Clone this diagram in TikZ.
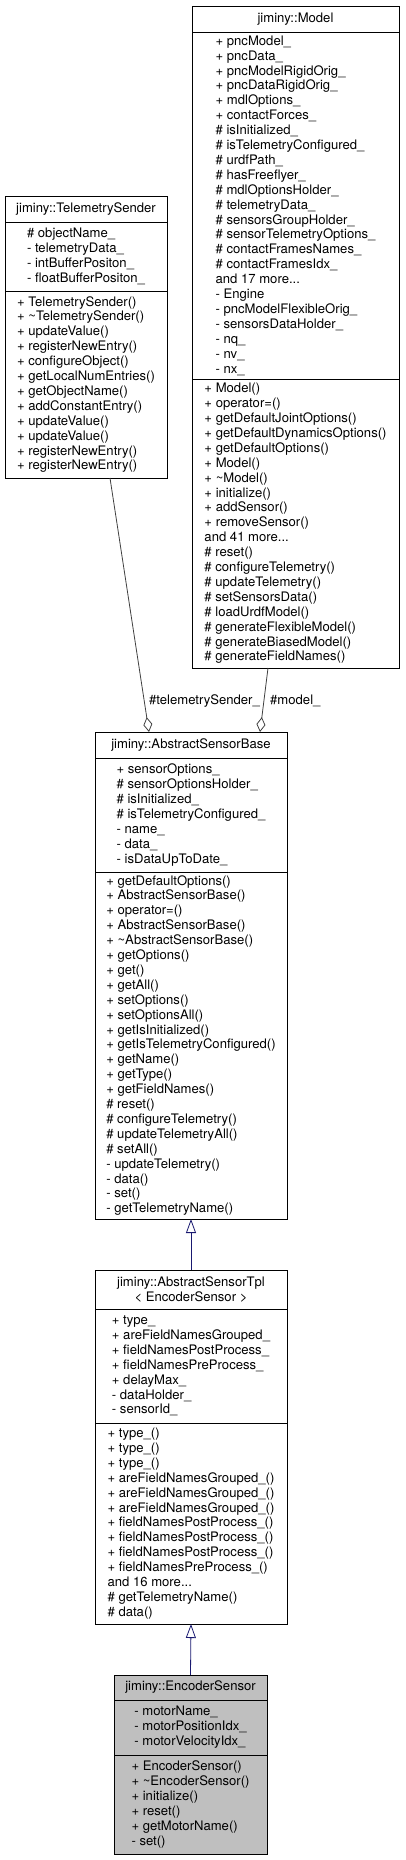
\documentclass[tikz,border=0pt]{standalone}
\usepackage{fontspec}
\setmainfont{TeX Gyre Heros}
\usetikzlibrary{positioning,arrows.meta}

\definecolor{edgeblue}{HTML}{191970}
\definecolor{edgegray}{HTML}{404040}
\definecolor{leafgray}{HTML}{BFBFBF}

\tikzset{
  cls/.style={draw=black, fill=white, line width=0.8pt, outer sep=0pt, inner sep=0pt,
    align=left, font=\fontsize{13.1}{14.9}\selectfont},
  ttl/.style={cls, align=center},
  leaf/.style={fill=leafgray},
  aggr/.style={draw=edgegray, line width=0.8pt, -{Diamond[open,length=15pt,width=9pt]}},
  inh/.style={draw=edgeblue, line width=0.8pt, -{Triangle[open,length=14pt,width=10pt]}},
  lbl/.style={inner sep=0pt, font=\fontsize{13.1}{14.9}\selectfont}
}

\begin{document}
\begin{tikzpicture}[x=1pt,y=-1pt,node distance=0pt]
    \useasboundingbox (0,0) rectangle (405,1860);

    % Define box widths
    \def\wMd{207pt}
    \def\wTs{162pt}
    \def\wSb{192pt}
    \def\wEs{153pt}

    % jiminy::Model
    \node[ttl, anchor=north west, minimum width=\wMd, minimum height=26pt] (mdT) at (192,6) {jiminy::Model};
    \node[cls, below=of mdT, minimum width=\wMd, minimum height=347pt] (mdA) {%
        + pncModel\_\\+ pncData\_\\+ pncModelRigidOrig\_\\+ pncDataRigidOrig\_\\%
        + mdlOptions\_\\+ contactForces\_\\\# isInitialized\_\\\# isTelemetryConfigured\_\\%
        \# urdfPath\_\\\# hasFreeflyer\_\\\# mdlOptionsHolder\_\\\# telemetryData\_\\%
        \# sensorsGroupHolder\_\\\# sensorTelemetryOptions\_\\\# contactFramesNames\_\\%
        \# contactFramesIdx\_\\and 17 more...\\- Engine\\- pncModelFlexibleOrig\_\\%
        - sensorsDataHolder\_\\- nq\_\\- nv\_\\- nx\_};
    \node[cls, below=of mdA, minimum width=\wMd, minimum height=289pt] (mdO) {%
        + Model()\\+ operator=()\\+ getDefaultJointOptions()\\+ getDefaultDynamicsOptions()\\%
        + getDefaultOptions()\\+ Model()\\+ \textasciitilde Model()\\+ initialize()\\%
        + addSensor()\\+ removeSensor()\\and 41 more...\\\# reset()\\\# configureTelemetry()\\%
        \# updateTelemetry()\\\# setSensorsData()\\\# loadUrdfModel()\\%
        \# generateFlexibleModel()\\\# generateBiasedModel()\\\# generateFieldNames()};

    % jiminy::TelemetrySender
    \node[ttl, anchor=north west, minimum width=\wTs, minimum height=26pt] (tsT) at (5,196) {jiminy::TelemetrySender};
    \node[cls, below=of tsT, minimum width=\wTs, minimum height=69pt] (tsA) {%
        \# objectName\_\\- telemetryData\_\\- intBufferPositon\_\\- floatBufferPositon\_};
    \node[cls, below=of tsA, minimum width=\wTs, minimum height=187pt] (tsO) {%
        + TelemetrySender()\\+ \textasciitilde TelemetrySender()\\+ updateValue()\\%
        + registerNewEntry()\\+ configureObject()\\+ getLocalNumEntries()\\%
        + getObjectName()\\+ addConstantEntry()\\+ updateValue()\\+ updateValue()\\%
        + registerNewEntry()\\+ registerNewEntry()};

    % jiminy::AbstractSensorBase
    \node[ttl, anchor=north west, minimum width=\wSb, minimum height=26pt] (sbT) at (95,732) {jiminy::AbstractSensorBase};
    \node[cls, below=of sbT, minimum width=\wSb, minimum height=114pt] (sbA) {%
        + sensorOptions\_\\\# sensorOptionsHolder\_\\\# isInitialized\_\\%
        \# isTelemetryConfigured\_\\- name\_\\- data\_\\- isDataUpToDate\_};
    \node[cls, below=of sbA, minimum width=\wSb, minimum height=347pt] (sbO) {%
        + getDefaultOptions()\\+ AbstractSensorBase()\\+ operator=()\\+ AbstractSensorBase()\\%
        + \textasciitilde AbstractSensorBase()\\+ getOptions()\\+ get()\\+ getAll()\\%
        + setOptions()\\+ setOptionsAll()\\+ getIsInitialized()\\+ getIsTelemetryConfigured()\\%
        + getName()\\+ getType()\\+ getFieldNames()\\\# reset()\\\# configureTelemetry()\\%
        \# updateTelemetryAll()\\\# setAll()\\- updateTelemetry()\\- data()\\- set()\\%
        - getTelemetryName()};

    % jiminy::AbstractSensorTpl< EncoderSensor >
    \node[ttl, anchor=north west, minimum width=\wSb, minimum height=39pt] (stT) at (95,1270) {jiminy::AbstractSensorTpl\\< EncoderSensor >};
    \node[cls, below=of stT, minimum width=\wSb, minimum height=114pt] (stA) {%
        + type\_\\+ areFieldNamesGrouped\_\\+ fieldNamesPostProcess\_\\%
        + fieldNamesPreProcess\_\\+ delayMax\_\\- dataHolder\_\\- sensorId\_};
    \node[cls, below=of stA, minimum width=\wSb, minimum height=201pt] (stO) {%
        + type\_()\\+ type\_()\\+ type\_()\\+ areFieldNamesGrouped\_()\\%
        + areFieldNamesGrouped\_()\\+ areFieldNamesGrouped\_()\\+ fieldNamesPostProcess\_()\\%
        + fieldNamesPostProcess\_()\\+ fieldNamesPostProcess\_()\\+ fieldNamesPreProcess\_()\\%
        and 16 more...\\\# getTelemetryName()\\\# data()};

    % jiminy::EncoderSensor
    \node[ttl, leaf, anchor=north west, minimum width=\wEs, minimum height=25pt] (esT) at (114,1675) {jiminy::EncoderSensor};
    \node[cls, leaf, below=of esT, minimum width=\wEs, minimum height=55pt] (esA) {%
        - motorName\_\\- motorPositionIdx\_\\- motorVelocityIdx\_};
    \node[cls, leaf, below=of esA, minimum width=\wEs, minimum height=99pt] (esO) {%
        + EncoderSensor()\\+ \textasciitilde EncoderSensor()\\+ initialize()\\+ reset()\\%
        + getMotorName()\\- set()};

    % Connector end points
    \coordinate (tsOut) at ([xshift=105pt]tsO.south west);
    \coordinate (mdOut) at ([xshift=76pt]mdO.south west);
    \coordinate (sbInA) at ([xshift=54pt]sbT.north west);
    \coordinate (sbInB) at ([xshift=165pt]sbT.north west);

    % Draw aggregations
    \draw[aggr] (tsOut) -- (sbInA);
    \draw[aggr] (mdOut) -- (sbInB);
    \node[lbl, anchor=west] (lblTs) at ([yshift=31pt]sbInA) {\#telemetrySender\_};
    \node[lbl, anchor=west] (lblMd) at ([xshift=10pt,yshift=31pt]sbInB) {\#model\_};

    % Draw inheritance
    \draw[inh] (stT.north) -- (sbO.south);
    \draw[inh] (esT.north) -- (stO.south);
\end{tikzpicture}
\end{document}
